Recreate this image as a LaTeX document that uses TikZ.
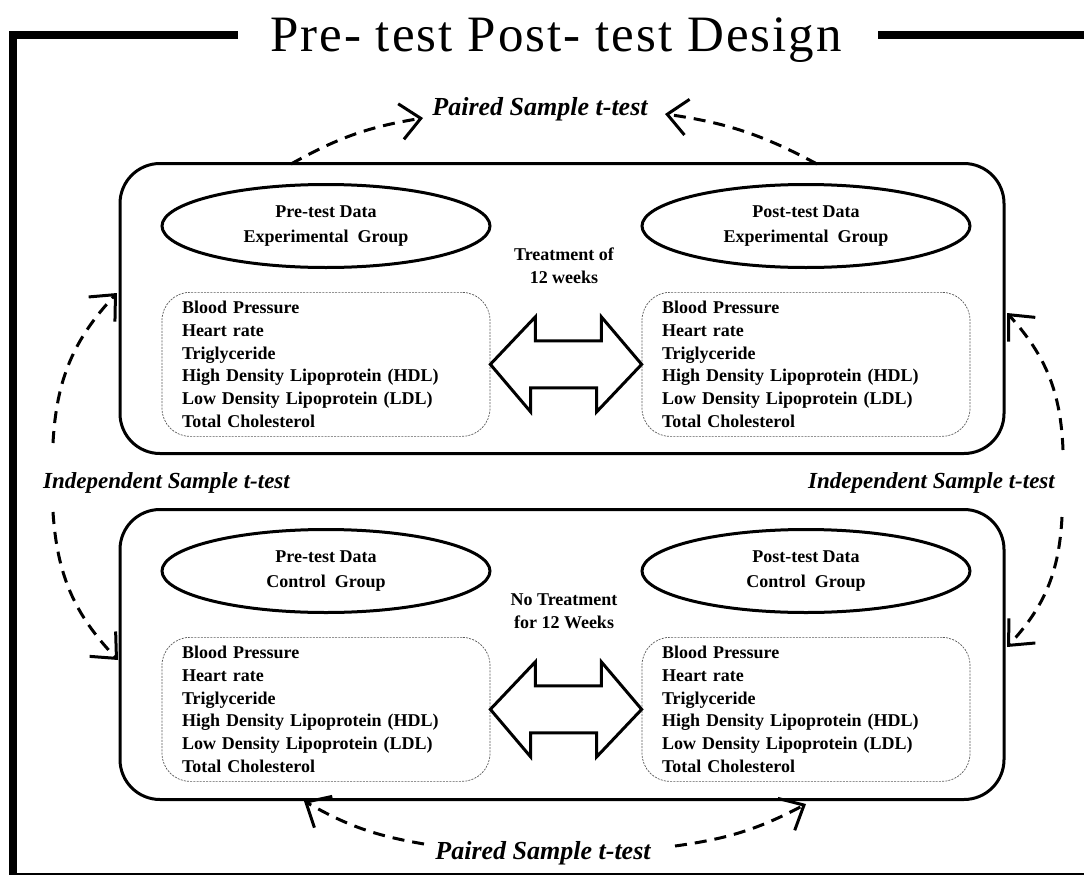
\documentclass[tikz,border=0pt]{standalone}
\usepackage{fontspec}
\setmainfont{Liberation Serif}
\usetikzlibrary{
  arrows.meta,
  shapes.geometric,
  positioning,
  calc
}
\definecolor{dsInk}{HTML}{000000}
\definecolor{dsDash}{HTML}{5A5A5A}
\tikzset{
  frameline/.style={line width=8pt, draw=dsInk},
  titletext/.style={
    font=\fontsize{51}{56}\selectfont\addfontfeature{LetterSpace=4},
    inner sep=0pt, anchor=base
  },
  groupbox/.style={
    draw=dsInk, line width=3pt, rounded corners=40pt,
    minimum width=884pt, minimum height=290pt
  },
  dataell/.style={
    draw=dsInk, ellipse, line width=3pt, inner sep=0pt, align=center,
    minimum width=328pt, minimum height=83pt,
    font=\fontsize{18}{25}\selectfont\bfseries
  },
  measbox/.style={
    draw=dsDash, dash pattern=on 2pt off 1.2pt, line width=0.7pt,
    rounded corners=28pt, minimum width=328pt, minimum height=144pt,
    text width=288pt, inner xsep=20pt, align=left,
    font=\fontsize{18}{22.8}\selectfont\bfseries
  },
  treat/.style={align=center, font=\fontsize{18}{23}\selectfont\bfseries},
  testlabel/.style={font=\fontsize{26}{30}\selectfont\bfseries\itshape, inner sep=0pt},
  sidelabel/.style={testlabel, font=\fontsize{23}{27}\selectfont\bfseries\itshape},
  blockarrow/.style={draw=dsInk, line width=3pt, line join=miter},
  testarrow/.style={
    line width=3pt, draw=dsInk, dash pattern=on 12pt off 8pt,
    -{Straight Barb[length=20pt, width=36pt]}
  }
}
\newcommand{\measlist}{Blood Pressure\\Heart rate\\Triglyceride\\High Density Lipoprotein (HDL)\\Low Density Lipoprotein (LDL)\\Total Cholesterol}

\begin{document}
\begin{tikzpicture}[x=1pt, y=1pt]
  \useasboundingbox (0,0) rectangle (1084,-875);
  \clip (0,0) rectangle (1084,-875);

  % outer frame and title
  \node[titletext] (title) at (556,-52) {Pre- test Post- test Design};
  \draw[frameline] (238,-35.5) -- (12.5,-35.5) -- (12.5,-877) -- (1100,-877);
  \draw[frameline] (878,-35.5) -- (1100,-35.5);

  % experimental group
  \node[groupbox] (exBox) at (562,-308.5) {};
  \node[dataell] (preEx) at (326,-226) {Pre-test Data\\Experimental\ \ Group};
  \node[dataell] (postEx) at (806,-226) {Post-test Data\\Experimental\ \ Group};
  \node[measbox, below=23pt of preEx] (preExList) {\measlist};
  \node[measbox, below=23pt of postEx] (postExList) {\measlist};
  \node[treat] (treatEx) at (564,-266) {Treatment of\\12 weeks};

  % control group
  \node[groupbox] (ctlBox) at (562,-654.5) {};
  \node[dataell] (preCtl) at (326,-571) {Pre-test Data\\Control\ \ Group};
  \node[dataell] (postCtl) at (806,-571) {Post-test Data\\Control\ \ Group};
  \node[measbox, below=23pt of preCtl] (preCtlList) {\measlist};
  \node[measbox, below=23pt of postCtl] (postCtlList) {\measlist};
  \node[treat] (treatCtl) at (564,-611) {No Treatment\\for 12 Weeks};

  % block arrows
  \draw[blockarrow] (preExList.east) -- ++(45,47.5) -- ++(0,-24) -- ++(66,0) -- ++(0,24)
    -- (postExList.west) -- ++(-45,-47.5) -- ++(0,24) -- ++(-66,0) -- ++(0,-24) -- cycle;
  \draw[blockarrow] (preCtlList.east) -- ++(45,47.5) -- ++(0,-24) -- ++(66,0) -- ++(0,24)
    -- (postCtlList.west) -- ++(-45,-47.5) -- ++(0,24) -- ++(-66,0) -- ++(0,-24) -- cycle;

  % test labels
  \node[testlabel] (pairedTop) at (540,-109) {Paired Sample t-test};
  \node[testlabel] (pairedBot) at (543,-853) {Paired Sample t-test};
  \node[sidelabel, anchor=west] (indepL) at (43,-483) {Independent Sample t-test};
  \node[sidelabel, anchor=east] (indepR) at (1055,-483) {Independent Sample t-test};

  % connector ends
  \coordinate (ptA) at (291,-164);
  \coordinate (ptB) at (423,-118);
  \coordinate (ptC) at (817,-164);
  \coordinate (ptD) at (665,-114);
  \coordinate (pbA) at (424,-844);
  \coordinate (pbB) at (304,-801);
  \coordinate (pbC) at (675,-846);
  \coordinate (pbD) at (806,-804);
  \coordinate (ilA) at (53,-443);
  \coordinate (ilB) at (117,-293);
  \coordinate (ilC) at (53,-512);
  \coordinate (ilD) at (118,-660);
  \coordinate (irA) at (1063,-450);
  \coordinate (irB) at (1007,-313);
  \coordinate (irC) at (1062,-517);
  \coordinate (irD) at (1007,-647);

  \draw[testarrow] (ptA) to[bend left=10] (ptB);
  \draw[testarrow] (ptC) to[bend right=10] (ptD);
  \draw[testarrow] (pbA) to[bend left=10] (pbB);
  \draw[testarrow] (pbC) to[bend right=10] (pbD);
  \draw[testarrow] (ilA) to[bend left=20] (ilB);
  \draw[testarrow] (ilC) to[bend right=20] (ilD);
  \draw[testarrow] (irA) to[bend right=20] (irB);
  \draw[testarrow] (irC) to[bend left=20] (irD);
\end{tikzpicture}
\end{document}
